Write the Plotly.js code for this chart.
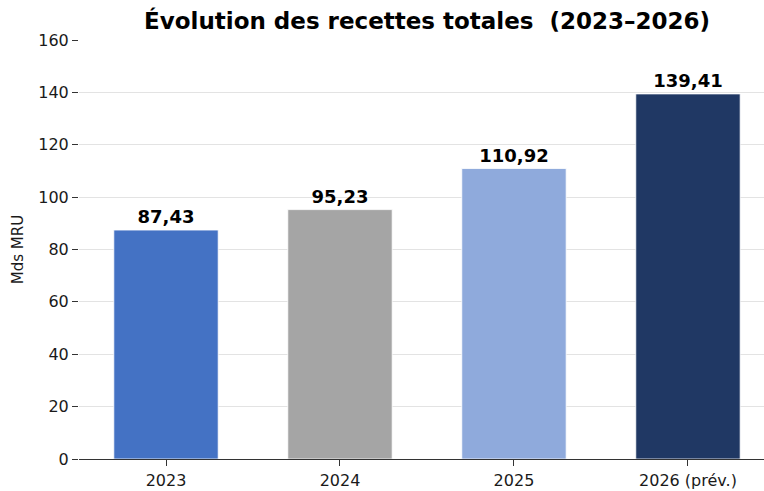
<!DOCTYPE html>
<html>
<head>
<meta charset="utf-8">
<script src="https://cdn.plot.ly/plotly-3.0.1.min.js"></script>
<style>html,body{margin:0;padding:0;background:#fff;}#chart{width:764px;height:491px;}</style>
</head>
<body>
<div id="chart"></div>
<script>
const categories = ["2023", "2024", "2025", "2026 (prév.)"];
const values = [87.43, 95.23, 110.92, 139.41];
const labels = ["87,43", "95,23", "110,92", "139,41"];
const colors = ["#4472C4", "#A5A5A5", "#8FAADC", "#203864"];

const trace = {
  type: "bar",
  x: [0, 1, 2, 3],
  y: values,
  width: 0.6,
  marker: {color: colors, line: {color: "#ffffff", width: 0.8}},
  text: labels,
  textposition: "outside",
  cliponaxis: false,
  textfont: {family: "DejaVu Sans", size: 18, color: "#000", weight: "bold"},
  hoverinfo: "none"
};

const layout = {
  width: 764, height: 491,
  margin: {l: 79, r: 0, t: 40, b: 32},
  paper_bgcolor: "#fff", plot_bgcolor: "#fff",
  font: {family: "DejaVu Sans", size: 16, color: "#1a1a1a"},
  title: {text: "<b>Évolution des recettes totales  (2023–2026)</b>", font: {family: "DejaVu Sans", size: 23, color: "#000"}, x: 0.559, xanchor: "center", y: 0.957, yanchor: "middle"},
  bargap: 0,
  xaxis: {
    range: [-0.5, 3.437],
    tickvals: [0, 1, 2, 3], ticktext: categories,
    ticks: "outside", ticklen: 6, tickcolor: "#333",
    showline: true, linecolor: "#333", linewidth: 1.3,
    showgrid: false, zeroline: false,
    tickfont: {size: 16, color: "#1a1a1a"}
  },
  yaxis: {
    range: [0, 160], tickvals: [0, 20, 40, 60, 80, 100, 120, 140, 160],
    ticks: "outside", ticklen: 6, tickcolor: "#333",
    showline: false, zeroline: false,
    showgrid: true, gridcolor: "#e3e3e3", gridwidth: 1,
    tickfont: {size: 16, color: "#1a1a1a"},
    title: {text: "Mds MRU", font: {size: 15, color: "#1a1a1a"}, standoff: 11}
  },
  showlegend: false
};

Plotly.newPlot("chart", [trace], layout, {staticPlot: true});
</script>
</body>
</html>
